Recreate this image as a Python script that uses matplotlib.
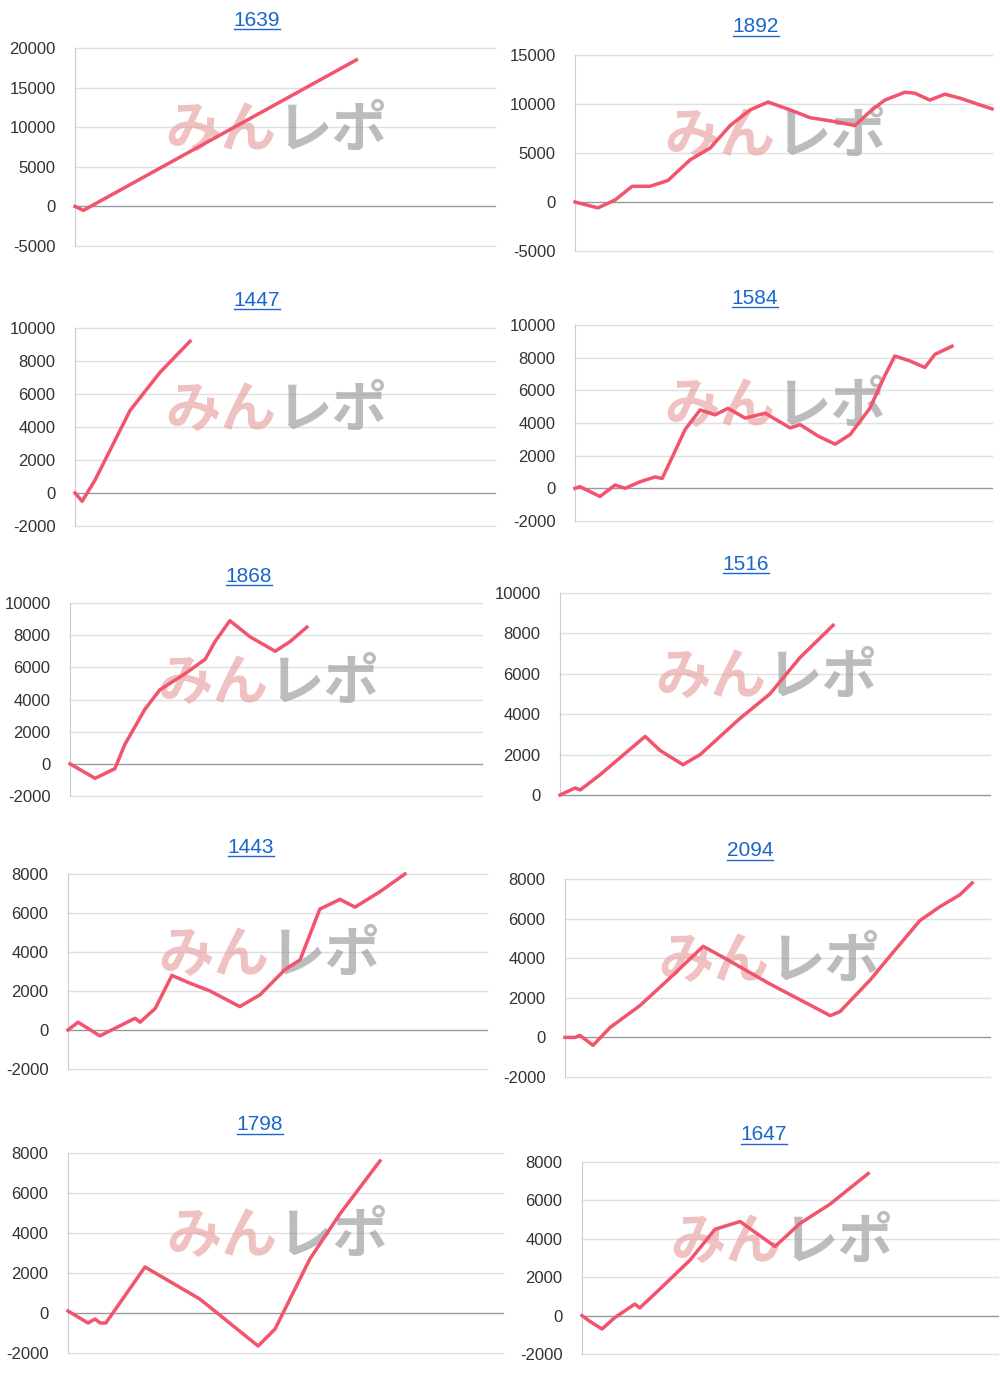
import matplotlib
matplotlib.use("Agg")
import matplotlib.pyplot as plt
from matplotlib.lines import Line2D

plt.rcParams['font.family'] = ['Liberation Sans', 'DejaVu Sans']

W, H = 1000, 1378

titles = ["1639", "1892", "1447", "1584", "1868", "1516", "1443", "2094", "1798", "1647"]

x1 = [0, 2, 67]
y1 = [0, -500, 18500]
x2 = [0, 5.5, 9.6, 13.7, 18, 22.3, 27.6, 32.4, 37.2, 42, 46.3, 51.6, 56.4, 62.4, 67.1, 71.2, 74.3, 79.1, 81.5, 85.1, 88.7, 92.3, 100]
y2 = [0, -600, 200, 1600, 1600, 2200, 4300, 5500, 7800, 9400, 10200, 9400, 8600, 8200, 7800, 9400, 10400, 11200, 11100, 10400, 11000, 10600, 9500]
x3 = [0, 1.7, 4.8, 13.1, 20.2, 27.4]
y3 = [0, -500, 800, 5000, 7300, 9200]
x4 = [0, 1.2, 6, 9.6, 12, 15.6, 19.2, 20.9, 23.3, 26.4, 30, 33.6, 36.7, 40.8, 45.6, 51.6, 54, 58.3, 62.4, 66, 70.7, 74.3, 76.7, 80.3, 83.9, 86.3, 90.4]
y4 = [0, 100, -500, 200, 0, 400, 700, 600, 1900, 3600, 4800, 4500, 4900, 4300, 4600, 3700, 3900, 3200, 2700, 3300, 4900, 6900, 8100, 7800, 7400, 8200, 8700]
x5 = [0, 6.1, 10.9, 13.3, 18.2, 21.8, 27.9, 32.8, 35.2, 38.8, 43.7, 49.8, 53.4, 57.5]
y5 = [0, -900, -300, 1200, 3400, 4600, 5600, 6500, 7600, 8900, 7900, 7000, 7600, 8500]
x6 = [0, 3.5, 4.7, 9.3, 19.8, 23.3, 28.6, 32.6, 41.9, 48.8, 55.8, 63.5]
y6 = [0, 350, 250, 1000, 2900, 2200, 1500, 2000, 3800, 5000, 6800, 8400]
x7 = [0, 2.4, 7.6, 16, 17.2, 20.8, 24.8, 29.1, 33.9, 41, 45.8, 51.8, 55.4, 60.1, 64.9, 68.5, 74.5, 80.4]
y7 = [0, 400, -300, 600, 400, 1100, 2800, 2400, 2000, 1200, 1800, 3100, 3600, 6200, 6700, 6300, 7100, 8000]
x8 = [0, 2.4, 3.5, 6.6, 10.6, 17.6, 24.7, 32.5, 37.6, 48.2, 62.4, 64.7, 71.8, 77.6, 83.5, 88.2, 92.9, 95.8]
y8 = [0, 0, 100, -400, 500, 1600, 3000, 4600, 4000, 2700, 1100, 1300, 2900, 4400, 5900, 6600, 7200, 7800]
x9 = [0, 4.6, 6.2, 7.4, 8.7, 17.7, 30.3, 43.7, 47.6, 55.6, 62.5, 71.7]
y9 = [100, -500, -300, -500, -500, 2300, 700, -1650, -800, 2700, 4950, 7600]
x10 = [0, 1.9, 4.8, 7.9, 12.7, 13.9, 18.8, 26, 32, 38, 46.4, 52.4, 59.6, 68.8]
y10 = [0, -300, -700, -100, 600, 400, 1400, 2900, 4500, 4900, 3600, 4800, 5800, 7400]

series = [(x1, y1), (x2, y2), (x3, y3), (x4, y4), (x5, y5), (x6, y6), (x7, y7), (x8, y8), (x9, y9), (x10, y10)]
yticks = [
    [-5000, 0, 5000, 10000, 15000, 20000],
    [-5000, 0, 5000, 10000, 15000],
    [-2000, 0, 2000, 4000, 6000, 8000, 10000],
    [-2000, 0, 2000, 4000, 6000, 8000, 10000],
    [-2000, 0, 2000, 4000, 6000, 8000, 10000],
    [0, 2000, 4000, 6000, 8000, 10000],
    [-2000, 0, 2000, 4000, 6000, 8000],
    [-2000, 0, 2000, 4000, 6000, 8000],
    [-2000, 0, 2000, 4000, 6000, 8000],
    [-2000, 0, 2000, 4000, 6000, 8000],
]
# pixel boxes: left, right, top(max tick), bottom(min tick), title x, title y
boxes = [
    (75, 495, 48, 246, 257, 20), (575, 992, 55, 251, 756, 27),
    (75, 495, 328, 526, 257, 300), (575, 992, 325, 521, 755, 298),
    (70, 482, 603, 796, 249, 576), (560, 990, 593, 795, 746, 565),
    (68, 487, 874, 1069, 251, 847), (565, 990, 879, 1077, 750, 851),
    (68, 503, 1153, 1353, 260, 1125), (582, 998, 1162, 1354, 764, 1135),
]

fig = plt.figure(figsize=(W / 100, H / 100), dpi=100)
titletexts = []
for i, (xs, ys) in enumerate(series):
    l, r, t, b, tx, ty = boxes[i]
    ax = fig.add_axes([l / W, 1 - b / H, (r - l) / W, (b - t) / H])
    yt = yticks[i]
    ax.set_ylim(yt[0], yt[-1])
    ax.set_xlim(0, 100)
    ax.set_yticks(yt)
    ax.set_yticklabels([str(v) for v in yt], fontsize=12, color='#333333')
    ax.set_xticks([])
    ax.tick_params(axis='y', length=0, pad=14)
    for s in ['top', 'right', 'bottom']:
        ax.spines[s].set_visible(False)
    ax.spines['left'].set_color('#cccccc')
    for v in yt:
        ax.axhline(v, color='#999999' if v == 0 else '#e0e0e0', lw=1, zorder=0, clip_on=False)
    ax.text(0.48, 0.58, "みん", transform=ax.transAxes, fontsize=40, fontweight='bold',
            family=['Noto Sans CJK JP'], color='#e8a0a0', alpha=0.65, ha='right', va='center',
            zorder=1)
    ax.text(0.48, 0.58, "レポ", transform=ax.transAxes, fontsize=40, fontweight='bold',
            family=['Noto Sans CJK JP'], color='#999999', alpha=0.65, ha='left', va='center',
            zorder=1)
    ax.plot(xs, ys, color='#f2536d', lw=2.5, zorder=3, clip_on=False)
    tt = fig.text(tx / W, 1 - ty / H, titles[i], fontsize=15, color='#1a66cc',
                  ha='center', va='center')
    titletexts.append(tt)

fig.canvas.draw()
rend = fig.canvas.get_renderer()
for tt in titletexts:
    bb = tt.get_window_extent(rend)
    yl = bb.y0 + 1
    fig.add_artist(Line2D([bb.x0 / W, bb.x1 / W], [yl / H, yl / H], color='#1a66cc', lw=1,
                          transform=fig.transFigure))
fig.savefig("out.png", dpi=100, facecolor='white')
